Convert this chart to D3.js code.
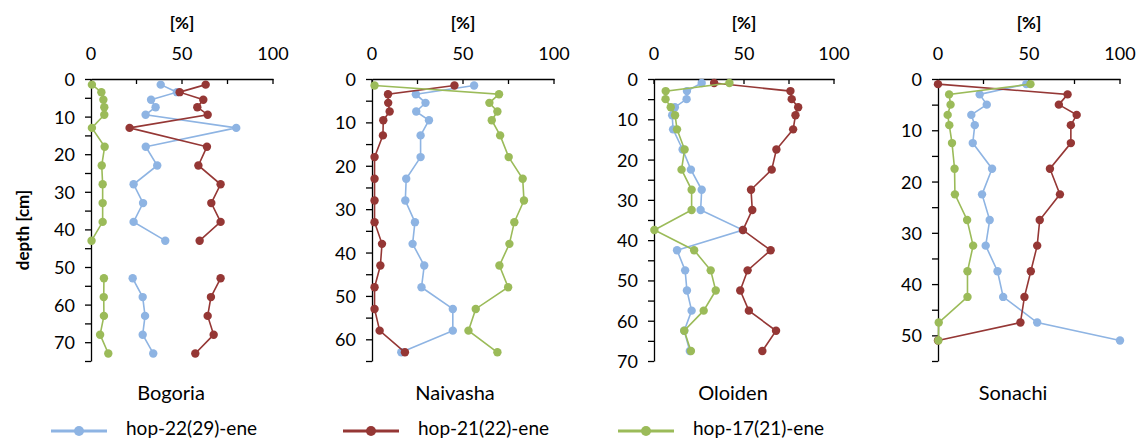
<!DOCTYPE html>
<html>
<head>
<meta charset="utf-8">
<script src="https://cdn.jsdelivr.net/npm/d3@7"></script>
<style>
  html, body { margin: 0; padding: 0; background: #fff; }
  svg { display: block; font-family: Lato, "Open Sans", sans-serif; }
</style>
</head>
<body>
<svg id="chart" width="1138" height="441"></svg>
<script>
// Series names and colours
const seriesNames = ["hop-22(29)-ene", "hop-21(22)-ene", "hop-17(21)-ene"];
const seriesColors = ["#8EB4E3", "#953735", "#9BBB59"];

// Lake Bogoria (null = no sample, the profile breaks there)
const bogoriaDepth = [1.5, 3.5, 5.5, 7.5, 9.5, 13, 18, 23, 28, 33, 38, 43, 48, 53, 58, 63, 68, 73];
const bogoriaHop22 = [38.3, 47.2, 33, 35.5, 30, 79.8, 30.1, 36.4, 23.4, 28.6, 23.4, 40.8, null, 22.9, 28.4, 29.7, 28.4, 34.2];
const bogoriaHop21 = [63, 48.7, 61.7, 58.4, 64.1, 21.2, 63.7, 59, 71.2, 66.1, 71.2, 59.7, null, 71.2, 65.9, 64.1, 67.4, 57.3];
const bogoriaHop17 = [0.5, 5.7, 6.8, 7.3, 7.3, 0.5, 7.5, 5.9, 6.4, 6.4, 6.4, 0.3, null, 7.1, 7, 7.1, 5, 9.5];

// Lake Naivasha
const naivashaDepth = [1.5, 3.5, 5.5, 7.5, 9.5, 13, 18, 23, 28, 33, 38, 43, 48, 53, 58, 63];
const naivashaHop22 = [56.1, 24.1, 29.4, 24.3, 31.3, 26.7, 26.7, 18.8, 18.3, 23.6, 22.3, 28.7, 27.2, 44.4, 44.4, 16.1];
const naivashaHop21 = [45.3, 8.8, 8.9, 9.7, 6.2, 6.0, 1.4, 1.4, 1.4, 1.4, 5.5, 4.6, 1.4, 1.4, 4.2, 18.1];
const naivashaHop17 = [1.4, 69.8, 64.5, 68.9, 65.8, 70.4, 75.1, 82.8, 83.5, 78.2, 75.5, 70, 74.8, 57, 53, 68.9];

// Lake Oloiden
const oloidenDepth = [1, 3, 5, 7, 9, 12.5, 17.5, 22.5, 27.5, 32.5, 37.5, 42.5, 47.5, 52.5, 57.5, 62.5, 67.5];
const oloidenHop22 = [26.5, 18.3, 18.1, 11.6, 10.1, 10.6, 15.9, 20.5, 26.5, 25.9, 49.4, 12.8, 17.3, 18.3, 20.9, 16.8, 19.9];
const oloidenHop21 = [33.4, 75.8, 76.5, 80.1, 78.6, 77.3, 68, 65.4, 53.9, 54.6, 49.4, 64.8, 52, 47.9, 52.7, 67.8, 60.2];
const oloidenHop17 = [41.9, 6.5, 6.4, 9.3, 11.7, 12.8, 17, 15.3, 20.9, 20.9, 0.2, 22.3, 31.5, 34.3, 27.6, 16.8, 20.5];

// Lake Sonachi
const sonachiDepth = [1, 3, 5, 7, 9, 12.5, 17.5, 22.5, 27.5, 32.5, 37.5, 42.5, 47.5, 51];
const sonachiHop22 = [48.5, 22.9, 26.8, 18.3, 20.2, 19.1, 29.7, 24.2, 28.4, 26.2, 32.7, 35.8, 54.5, 100];
const sonachiHop21 = [0, 71.2, 66.4, 76.2, 73, 73, 61.5, 67, 55.9, 54.5, 51, 47.5, 45.3, 0];
const sonachiHop17 = [50.8, 6.1, 6.9, 5.3, 6.2, 7.7, 9.1, 9.3, 16, 19.3, 16.2, 16.2, 0.4, 0.2];

// Axis settings
const percentTicks = [0, 25, 50, 75, 100];
const percentLabels = [0, 50, 100];
const lakeNames = ["Bogoria", "Naivasha", "Oloiden", "Sonachi"];
const depthMax = [75, 65, 70, 55];

const panels = [
  { name: lakeNames[0], depth: bogoriaDepth, series: [bogoriaHop22, bogoriaHop21, bogoriaHop17], maxDepth: depthMax[0], left: 91, width: 182, titleX: 171 },
  { name: lakeNames[1], depth: naivashaDepth, series: [naivashaHop22, naivashaHop21, naivashaHop17], maxDepth: depthMax[1], left: 372, width: 182, titleX: 455 },
  { name: lakeNames[2], depth: oloidenDepth, series: [oloidenHop22, oloidenHop21, oloidenHop17], maxDepth: depthMax[2], left: 654, width: 180, titleX: 733 },
  { name: lakeNames[3], depth: sonachiDepth, series: [sonachiHop22, sonachiHop21, sonachiHop17], maxDepth: depthMax[3], left: 938, width: 182, titleX: 1013 }
];

const svg = d3.select("#chart");
const plotTop = 79, plotBottom = 361;
const textColor = "#000";

panels.forEach((p) => {
  const x = d3.scaleLinear().domain([0, 100]).range([p.left, p.left + p.width]);
  const y = d3.scaleLinear().domain([0, p.maxDepth]).range([plotTop, plotBottom]);
  const g = svg.append("g");

  // top percent axis
  const xAxis = g.append("g").attr("transform", `translate(0,${plotTop})`)
    .call(d3.axisTop(x).tickValues(percentTicks).tickSize(0).tickSizeOuter(0).tickFormat(""));
  xAxis.select(".domain").attr("stroke", "#000").attr("stroke-width", 1.3);
  xAxis.selectAll(".tick line").remove();
  g.selectAll(".xtick").data(percentTicks).enter().append("line")
    .attr("x1", d => x(d)).attr("x2", d => x(d))
    .attr("y1", plotTop).attr("y2", plotTop + 5)
    .attr("stroke", "#000").attr("stroke-width", 1.3);
  g.selectAll(".xlabel").data(percentLabels).enter().append("text")
    .attr("x", d => x(d)).attr("y", 53)
    .attr("text-anchor", "middle").attr("dominant-baseline", "central")
    .attr("font-size", 18).attr("fill", textColor)
    .text(d => d);
  g.append("text")
    .attr("x", x(50)).attr("y", 22)
    .attr("text-anchor", "middle").attr("dominant-baseline", "central")
    .attr("font-size", 17).attr("font-weight", "bold").attr("fill", textColor)
    .text("[%]");

  // depth axis
  const minorTicks = d3.range(0, p.maxDepth + 0.01, 5);
  const majorTicks = d3.range(0, p.maxDepth + 0.01, 10);
  const yAxis = g.append("g").attr("transform", `translate(${x(0)},0)`)
    .call(d3.axisLeft(y).tickValues(minorTicks).tickSize(6).tickSizeOuter(0).tickFormat(""));
  yAxis.select(".domain").attr("stroke", "#000").attr("stroke-width", 1.3);
  yAxis.selectAll(".tick line").attr("stroke", "#000").attr("stroke-width", 1.3);
  g.selectAll(".ylabel").data(majorTicks).enter().append("text")
    .attr("x", x(0) - 16).attr("y", d => y(d))
    .attr("text-anchor", "end").attr("dominant-baseline", "central")
    .attr("font-size", 18).attr("fill", textColor)
    .text(d => d);

  // profiles
  p.series.forEach((vals, si) => {
    const pts = p.depth.map((d, i) => ({ depth: d, v: vals[i] }));
    const line = d3.line()
      .defined(d => d.v !== null)
      .x(d => x(d.v)).y(d => y(d.depth));
    g.append("path").datum(pts)
      .attr("d", line)
      .attr("fill", "none")
      .attr("stroke", seriesColors[si])
      .attr("stroke-width", 1.6);
    g.selectAll(null).data(pts.filter(d => d.v !== null)).enter().append("circle")
      .attr("cx", d => x(d.v)).attr("cy", d => y(d.depth))
      .attr("r", 4.2)
      .attr("fill", seriesColors[si]);
  });

  // lake name
  svg.append("text")
    .attr("x", p.titleX).attr("y", 392)
    .attr("text-anchor", "middle").attr("dominant-baseline", "central")
    .attr("font-size", 20).attr("fill", textColor)
    .text(p.name);
});

// depth label
svg.append("text")
  .attr("transform", "translate(22,230) rotate(-90)")
  .attr("text-anchor", "middle").attr("dominant-baseline", "central")
  .attr("font-size", 17).attr("font-weight", "bold").attr("fill", textColor)
  .text("depth [cm]");

// legend
const legendX = [51, 343, 618];
const legend = svg.append("g");
seriesNames.forEach((name, i) => {
  const lx = legendX[i];
  legend.append("line")
    .attr("x1", lx).attr("x2", lx + 56).attr("y1", 431).attr("y2", 431)
    .attr("stroke", seriesColors[i]).attr("stroke-width", 3);
  legend.append("circle")
    .attr("cx", lx + 28).attr("cy", 431).attr("r", 5)
    .attr("fill", seriesColors[i]);
  legend.append("text")
    .attr("x", lx + 75).attr("y", 435)
    .attr("font-size", 19).attr("fill", textColor)
    .text(name);
});
</script>
</body>
</html>
